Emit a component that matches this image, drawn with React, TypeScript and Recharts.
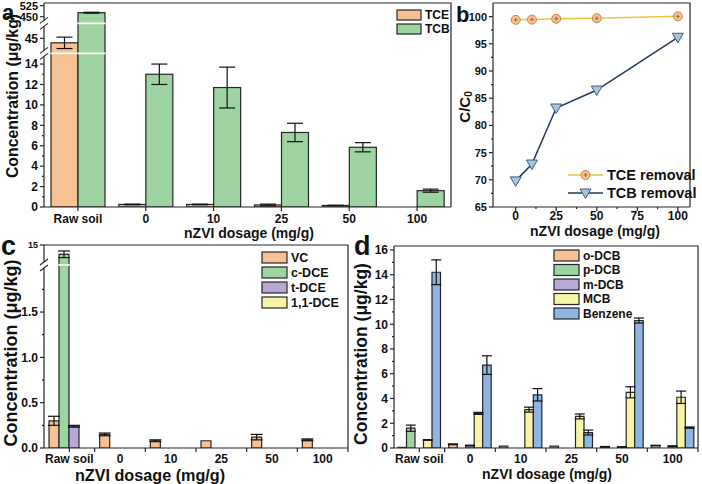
import React from "react";
import { BarChart, Bar, XAxis, YAxis, ErrorBar, LineChart, Line } from "recharts";

const FONT = "'Liberation Sans', Arial, Helvetica, sans-serif";
const INK = "#262626";
const ORANGE = "#F6C193";
const GREEN = "#9ED4A1";
const PURPLE = "#B7A9D5";
const YELLOW = "#F7F4A8";
const BLUE = "#8FB5E3";

// categories shared by the bar panels
const dosage = ["Raw soil", "0", "10", "25", "50", "100"];

// panel a (µg/kg)
const tce = [43.5, 0.25, 0.25, 0.2, 0.15, 0];
const tceErr = [1.9, 0.03, 0.03, 0.08, 0.02, 0];
const tcb = [477, 13.0, 11.7, 7.3, 5.85, 1.6];
const tcbErr = [3, 1.0, 2.0, 0.9, 0.45, 0.15];

// panel b (%)
const doseNum = [0, 10, 25, 50, 100];
const tceRemoval = [99.4, 99.45, 99.6, 99.7, 100.05];
const tcbRemoval = [69.8, 72.9, 83.2, 86.5, 96.2];

// panel c (µg/kg)
const vc = [0.3, 0.15, 0.08, 0.08, 0.12, 0.09];
const vcErr = [0.05, 0.015, 0.01, 0, 0.03, 0.01];
const cDce = [14.3, 0, 0, 0, 0, 0];
const cDceErr = [0.25, 0, 0, 0, 0, 0];
const tDce = [0.24, 0, 0, 0, 0, 0];
const tDceErr = [0.01, 0, 0, 0, 0, 0];
const dce11 = [0, 0, 0, 0, 0, 0];

// panel d (µg/kg)
const oDcb = [0.05, 0.3, 0.15, 0.15, 0.1, 0.2];
const oDcbErr = [0, 0.03, 0, 0, 0.02, 0.02];
const pDcb = [1.6, 0, 0, 0, 0, 0];
const pDcbErr = [0.25, 0, 0, 0, 0, 0];
const mDcb = [0, 0.2, 0, 0, 0.08, 0.15];
const mDcbErr = [0, 0.03, 0, 0, 0.02, 0.02];
const mcb = [0.65, 2.8, 3.1, 2.55, 4.5, 4.1];
const mcbErr = [0.02, 0.08, 0.2, 0.2, 0.45, 0.5];
const benzene = [14.2, 6.7, 4.3, 1.25, 10.3, 1.65];
const benzeneErr = [1.0, 0.75, 0.5, 0.2, 0.2, 0.05];

// broken axes: real value -> display units
const toA = (v: number) =>
  v <= 15.05 ? v : v <= 50 ? 15.05 + (v - 40) * 0.294 : 18.64 + (v - 450) * 0.0144;
const toC = (v: number) => (v <= 2.02 ? v : 2.02 + (v - 13.5) * 0.147);

const withErr = (f: (v: number) => number, v: number, e: number) => f(v + e) - f(v);

const dataA = dosage.map((c, i) => ({
  c,
  tce: toA(tce[i]),
  tceE: withErr(toA, tce[i], tceErr[i]),
  tcb: toA(tcb[i]),
  tcbE: withErr(toA, tcb[i], tcbErr[i]),
}));

const dataB = doseNum.map((d, i) => ({ dose: d, tce: tceRemoval[i], tcb: tcbRemoval[i] }));

const dataC = dosage.map((c, i) => ({
  c,
  vc: toC(vc[i]),
  vcE: withErr(toC, vc[i], vcErr[i]),
  cdce: toC(cDce[i]),
  cdceE: withErr(toC, cDce[i], cDceErr[i]),
  tdce: toC(tDce[i]),
  tdceE: withErr(toC, tDce[i], tDceErr[i]),
  dce11: toC(dce11[i]),
}));

const dataD = dosage.map((c, i) => ({
  c,
  o: oDcb[i], oE: oDcbErr[i],
  p: pDcb[i], pE: pDcbErr[i],
  m: mDcb[i], mE: mDcbErr[i],
  mcb: mcb[i], mcbE: mcbErr[i],
  bz: benzene[i], bzE: benzeneErr[i],
}));

type Kind = "major" | "minor" | "break";
type Spec = { v: number; kind: Kind; label?: string; size?: number };

const tickSet = (specs: Spec[]) => ({
  ticks: specs.map((s) => s.v),
  map: new Map(specs.map((s) => [s.v.toFixed(4), s])),
});

const specsA = tickSet([
  ...[0, 2, 4, 6, 8, 10, 12, 14].map((v) => ({ v, kind: "major" as Kind, label: String(v) })),
  ...[1, 3, 5, 7, 9, 11, 13].map((v) => ({ v, kind: "minor" as Kind })),
  { v: toA(15.05), kind: "break" },
  { v: toA(45), kind: "major", label: "45" },
  { v: toA(50), kind: "break" },
  { v: toA(450), kind: "major", label: "450", size: 11 },
  { v: toA(525), kind: "major", label: "525", size: 11 },
]);

const specsB = tickSet([
  ...[65, 70, 75, 80, 85, 90, 95, 100].map((v) => ({ v, kind: "major" as Kind, label: String(v) })),
  ...[67.5, 72.5, 77.5, 82.5, 87.5, 92.5, 97.5].map((v) => ({ v, kind: "minor" as Kind })),
]);
const specsBx = tickSet([
  ...[0, 25, 50, 75, 100].map((v) => ({ v, kind: "major" as Kind, label: String(v) })),
  ...[12.5, 37.5, 62.5, 87.5].map((v) => ({ v, kind: "minor" as Kind })),
]);

const specsC = tickSet([
  ...[0, 0.5, 1, 1.5].map((v) => ({ v, kind: "major" as Kind, label: v.toFixed(1) })),
  ...[0.25, 0.75, 1.25, 1.75].map((v) => ({ v, kind: "minor" as Kind })),
  { v: toC(2.02), kind: "break" },
  { v: toC(15), kind: "major", label: "15", size: 9 },
]);

const specsD = tickSet([
  ...[0, 2, 4, 6, 8, 10, 12, 14, 16].map((v) => ({ v, kind: "major" as Kind, label: String(v) })),
  ...[1, 3, 5, 7, 9, 11, 13, 15].map((v) => ({ v, kind: "minor" as Kind })),
]);

const yTick = (map: Map<string, Spec>, fontSize: number) => (p: any) => {
  const { x, y, payload } = p;
  const s = map.get(Number(payload.value).toFixed(4));
  if (!s) return <g />;
  if (s.kind === "break") {
    return (
      <g>
        <rect x={x - 2.5} y={y - 3} width={5} height={6} fill="#fff" />
        <line x1={x - 4} y1={y} x2={x + 4} y2={y - 6} stroke={INK} strokeWidth={1.1} />
        <line x1={x - 4} y1={y + 6} x2={x + 4} y2={y} stroke={INK} strokeWidth={1.1} />
      </g>
    );
  }
  const len = s.kind === "major" ? 4 : 2;
  return (
    <g>
      <line x1={x - len} x2={x} y1={y} y2={y} stroke={INK} strokeWidth={1.2} />
      {s.label && (
        <text x={x - 6} y={y} dy="0.36em" textAnchor="end" fontSize={s.size ?? fontSize}
          fontWeight={700} fontFamily={FONT} fill="#111">
          {s.label}
        </text>
      )}
    </g>
  );
};

const xNumTick = (map: Map<string, Spec>, dy: number) => (p: any) => {
  const { x, y, payload } = p;
  const s = map.get(Number(payload.value).toFixed(4));
  if (!s) return <g />;
  const len = s.kind === "major" ? 4 : 2;
  return (
    <g>
      <line x1={x} x2={x} y1={y} y2={y + len} stroke={INK} strokeWidth={1.2} />
      {s.label && (
        <text x={x} y={y + dy} textAnchor="middle" fontSize={12} fontWeight={700} fontFamily={FONT} fill="#111">
          {s.label}
        </text>
      )}
    </g>
  );
};

const catTick = (dy: number, band: number) => (p: any) => {
  const { x, y, payload, index } = p;
  const marks = band ? (index === 0 ? [x, x + band / 2] : [x + band / 2]) : [x];
  return (
    <g>
      {marks.map((mx: number, k: number) => (
        <line key={k} x1={mx} x2={mx} y1={y} y2={y + 4} stroke={INK} strokeWidth={1.2} />
      ))}
      <text x={x} y={y + dy} textAnchor="middle" fontSize={12} fontWeight={700} fontFamily={FONT} fill="#111">
        {payload.value}
      </text>
    </g>
  );
};

// bar with white gaps where it crosses an axis break
const breakBar = (breaks: number[], key: string) => (p: any) => {
  const { x, y, width, height, fill } = p;
  if (!height || height <= 0) return <g />;
  const val = p.payload[key];
  const bottom = y + height;
  return (
    <g>
      <rect x={x} y={y} width={width} height={height} fill={fill} stroke={INK} strokeWidth={1.2} />
      {breaks
        .filter((b) => b < val)
        .map((b) => {
          const yy = bottom - (height * b) / val;
          return <line key={b} x1={x - 0.6} x2={x + width + 0.6} y1={yy} y2={yy} stroke="#fff" strokeWidth={1.8} />;
        })}
    </g>
  );
};

const axisLine = { stroke: INK, strokeWidth: 1.2 };
const errProps = { stroke: "#111", strokeWidth: 1.2, direction: "y" as const };

const circleDot = (p: any) => {
  const { cx, cy, index } = p;
  return (
    <g key={`c${index}`}>
      <circle cx={cx} cy={cy} r={4.5} fill={ORANGE} stroke="#C98440" strokeWidth={1} />
      <line x1={cx - 2} x2={cx + 2} y1={cy} y2={cy} stroke="#8a5a2a" strokeWidth={0.8} />
      <line x1={cx} x2={cx} y1={cy - 2} y2={cy + 2} stroke="#8a5a2a" strokeWidth={0.8} />
    </g>
  );
};
const triDot = (p: any) => {
  const { cx, cy, index } = p;
  return (
    <path key={`t${index}`} d={`M${cx - 5.5},${cy - 4} L${cx + 5.5},${cy - 4} L${cx},${cy + 5.5} Z`}
      fill="#A9C3DF" stroke="#3D5E80" strokeWidth={1} />
  );
};

const Swatch = ({ x, y, w, h, fill, label, fs }: any) => (
  <g>
    <rect x={x} y={y} width={w} height={h} fill={fill} stroke={INK} strokeWidth={1.2} />
    <text x={x + w + 4} y={y + h / 2} dy="0.36em" fontSize={fs}>{label}</text>
  </g>
);

const pos: React.CSSProperties = { position: "absolute", left: 0, top: 0 };

export default function App() {
  const W = 702;
  const H = 484;
  return (
    <div style={{ position: "absolute", left: 0, top: 0, width: W, height: H, background: "#fff", overflow: "hidden" }}>
      {/* a */}
      <div style={pos}>
        <BarChart width={W} height={H} data={dataA} margin={{ top: 3, right: 251, bottom: 247, left: 0 }}
          barGap={0} barSize={27}>
          <XAxis dataKey="c" height={30} interval={0} tickSize={0} tickMargin={0} tickLine={false}
            axisLine={axisLine} tick={catTick(15.5, 0)} />
          <YAxis type="number" width={44} domain={[0, 19.98]} allowDataOverflow ticks={specsA.ticks} interval={0}
            tickSize={0} tickMargin={0} tickLine={false} axisLine={axisLine} tick={yTick(specsA.map, 12)} />
          <Bar dataKey="tce" fill={ORANGE} shape={breakBar([15.05, toA(50)], "tce")} isAnimationActive={false}>
            <ErrorBar dataKey="tceE" width={8} {...errProps} />
          </Bar>
          <Bar dataKey="tcb" fill={GREEN} shape={breakBar([15.05, toA(50)], "tcb")} isAnimationActive={false}>
            <ErrorBar dataKey="tcbE" width={8} {...errProps} />
          </Bar>
        </BarChart>
      </div>

      {/* b */}
      <div style={pos}>
        <LineChart width={W} height={H} data={dataB} margin={{ top: 3, right: 12, bottom: 247, left: 463 }}>
          <XAxis dataKey="dose" type="number" domain={[-14, 107.5]} allowDataOverflow ticks={specsBx.ticks}
            interval={0} height={30} tickSize={0} tickMargin={0} tickLine={false} axisLine={axisLine}
            tick={xNumTick(specsBx.map, 13)} />
          <YAxis type="number" width={30} domain={[65, 102.5]} allowDataOverflow ticks={specsB.ticks} interval={0}
            tickSize={0} tickMargin={0} tickLine={false} axisLine={axisLine} tick={yTick(specsB.map, 11)} />
          <Line dataKey="tce" stroke="#F1C342" strokeWidth={1.5} dot={circleDot} isAnimationActive={false} />
          <Line dataKey="tcb" stroke="#1F3A5C" strokeWidth={1.5} dot={triDot} isAnimationActive={false} />
        </LineChart>
      </div>

      {/* c */}
      <div style={pos}>
        <BarChart width={W} height={H} data={dataC} margin={{ top: 245, right: 354, bottom: 6, left: 0 }}
          barGap={0} barSize={10}>
          <XAxis dataKey="c" height={30} interval={0} tickSize={0} tickMargin={0} tickLine={false}
            axisLine={axisLine} tick={catTick(15, 304 / 6)} />
          <YAxis type="number" width={44} domain={[0, 2.24]} allowDataOverflow ticks={specsC.ticks} interval={0}
            tickSize={0} tickMargin={0} tickLine={false} axisLine={axisLine} tick={yTick(specsC.map, 12)} />
          <Bar dataKey="vc" fill={ORANGE} stroke={INK} strokeWidth={1.2} isAnimationActive={false}>
            <ErrorBar dataKey="vcE" width={6} {...errProps} />
          </Bar>
          <Bar dataKey="cdce" fill={GREEN} shape={breakBar([2.02], "cdce")} isAnimationActive={false}>
            <ErrorBar dataKey="cdceE" width={6} {...errProps} />
          </Bar>
          <Bar dataKey="tdce" fill={PURPLE} stroke={INK} strokeWidth={1.2} isAnimationActive={false}>
            <ErrorBar dataKey="tdceE" width={6} {...errProps} />
          </Bar>
          <Bar dataKey="dce11" fill={YELLOW} stroke={INK} strokeWidth={1.2} isAnimationActive={false} />
        </BarChart>
      </div>

      {/* d */}
      <div style={pos}>
        <BarChart width={W} height={H} data={dataD} margin={{ top: 246, right: 4, bottom: 6, left: 350 }}
          barGap={0} barSize={8.5}>
          <XAxis dataKey="c" height={30} interval={0} tickSize={0} tickMargin={0} tickLine={false}
            axisLine={axisLine} tick={catTick(15, 304 / 6)} />
          <YAxis type="number" width={44} domain={[0, 16.32]} allowDataOverflow ticks={specsD.ticks} interval={0}
            tickSize={0} tickMargin={0} tickLine={false} axisLine={axisLine} tick={yTick(specsD.map, 12)} />
          <Bar dataKey="o" fill={ORANGE} stroke={INK} strokeWidth={1.2} isAnimationActive={false}>
            <ErrorBar dataKey="oE" width={5} {...errProps} />
          </Bar>
          <Bar dataKey="p" fill={GREEN} stroke={INK} strokeWidth={1.2} isAnimationActive={false}>
            <ErrorBar dataKey="pE" width={5} {...errProps} />
          </Bar>
          <Bar dataKey="m" fill={PURPLE} stroke={INK} strokeWidth={1.2} isAnimationActive={false}>
            <ErrorBar dataKey="mE" width={5} {...errProps} />
          </Bar>
          <Bar dataKey="mcb" fill={YELLOW} stroke={INK} strokeWidth={1.2} isAnimationActive={false}>
            <ErrorBar dataKey="mcbE" width={5} {...errProps} />
          </Bar>
          <Bar dataKey="bz" fill={BLUE} stroke={INK} strokeWidth={1.2} isAnimationActive={false}>
            <ErrorBar dataKey="bzE" width={5} {...errProps} />
          </Bar>
        </BarChart>
      </div>

      {/* frames, titles, legends */}
      <svg width={W} height={H} style={{ ...pos, pointerEvents: "none" }} fontFamily={FONT} fontWeight={700} fill="#111">
        <g stroke={INK} strokeWidth={1.2} fill="none">
          <polyline points="44,3 451,3 451,207" />
          <polyline points="493,3 690,3 690,207" />
          <polyline points="44,245 348,245 348,448" />
          <polyline points="394,246 698,246 698,448" />
        </g>

        <text x={2} y={20} fontSize={22}>a</text>
        <text x={456} y={22} fontSize={22}>b</text>
        <text x={1} y={255} fontSize={27}>c</text>
        <text x={354} y={255} fontSize={27}>d</text>

        <text transform="translate(12,96) rotate(-90)" textAnchor="middle" dominantBaseline="central" fontSize={15.8}>
          Concentration (μg/kg)
        </text>
        <text x={249} y={238} textAnchor="middle" fontSize={14}>nZVI dosage (mg/g)</text>

        <text transform="translate(464,107) rotate(-90)" textAnchor="middle" dominantBaseline="central" fontSize={15}>
          C/C<tspan fontSize={10} dy={4}>0</tspan>
        </text>
        <text x={595} y={236} textAnchor="middle" fontSize={14}>nZVI dosage (mg/g)</text>

        <text transform="translate(11,353) rotate(-90)" textAnchor="middle" dominantBaseline="central" fontSize={18}>
          Concentration (μg/kg)
        </text>
        <text x={150} y={480.5} textAnchor="middle" fontSize={16.2}>nZVI dosage (mg/g)</text>

        <text transform="translate(361,354) rotate(-90)" textAnchor="middle" dominantBaseline="central" fontSize={17.5}>
          Concentration (μg/kg)
        </text>
        <text x={547} y={479} textAnchor="middle" fontSize={14}>nZVI dosage (mg/g)</text>

        <Swatch x={397} y={10} w={24} h={10} fill={ORANGE} label="TCE" fs={12} />
        <Swatch x={397} y={24} w={24} h={10} fill={GREEN} label="TCB" fs={12} />

        <line x1={568} x2={603} y1={175} y2={175} stroke="#F1C342" strokeWidth={1.5} />
        {circleDot({ cx: 585.5, cy: 175, index: 99 })}
        <text x={607} y={175} dy="0.36em" fontSize={14.5}>TCE removal</text>
        <line x1={568} x2={603} y1={193} y2={193} stroke="#1F3A5C" strokeWidth={1.5} />
        {triDot({ cx: 585.5, cy: 193, index: 99 })}
        <text x={607} y={193} dy="0.36em" fontSize={14.5}>TCB removal</text>

        <Swatch x={262} y={252} w={25} h={11} fill={ORANGE} label="VC" fs={12.5} />
        <Swatch x={262} y={267} w={25} h={11} fill={GREEN} label="c-DCE" fs={12.5} />
        <Swatch x={262} y={282} w={25} h={11} fill={PURPLE} label="t-DCE" fs={12.5} />
        <Swatch x={262} y={297} w={25} h={11} fill={YELLOW} label="1,1-DCE" fs={12.5} />

        <Swatch x={554} y={250} w={25} h={11} fill={ORANGE} label="o-DCB" fs={12} />
        <Swatch x={554} y={264.5} w={25} h={11} fill={GREEN} label="p-DCB" fs={12} />
        <Swatch x={554} y={279} w={25} h={11} fill={PURPLE} label="m-DCB" fs={12} />
        <Swatch x={554} y={293.5} w={25} h={11} fill={YELLOW} label="MCB" fs={12} />
        <Swatch x={554} y={308} w={25} h={11} fill={BLUE} label="Benzene" fs={12} />
      </svg>
    </div>
  );
}
